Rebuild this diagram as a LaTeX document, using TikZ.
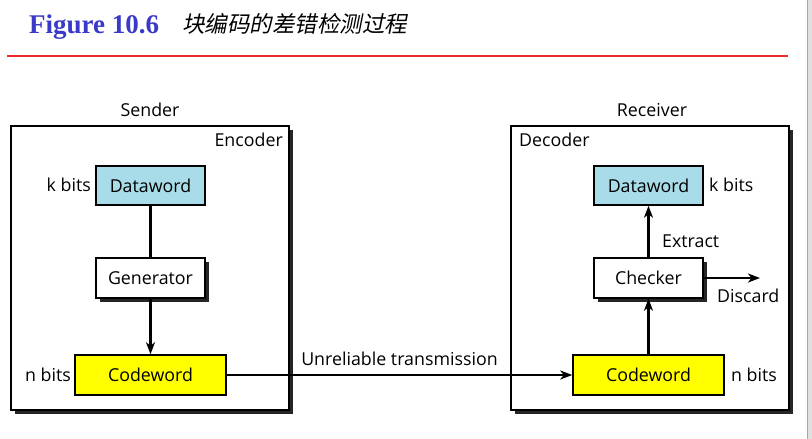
\documentclass[tikz,border=0pt]{standalone}
\usepackage{fontspec}
\setmainfont{Open Sans}
\newfontfamily\titlefont{Liberation Serif}
\newfontfamily\cjkfont[FakeSlant=0.2]{Noto Sans CJK SC}
\usetikzlibrary{arrows.meta,shadows}
\definecolor{titleblue}{HTML}{3A3AC8}
\definecolor{ruled}{HTML}{EE2A2A}
\definecolor{lblue}{HTML}{A8DCE8}
\definecolor{yel}{HTML}{FFFF00}
\begin{document}
\begin{tikzpicture}[x=1pt,y=-1pt,
  every node/.style={font=\fontsize{17.8}{20}\selectfont, inner sep=0pt},
  shad/.style={drop shadow={shadow xshift=4pt,shadow yshift=-4pt,fill=black!85,opacity=1}},
  shads/.style={drop shadow={shadow xshift=3.5pt,shadow yshift=-3.5pt,fill=black!85,opacity=1}},
  outerbox/.style={draw=black, line width=1.5pt, fill=white, shad, minimum width=278pt, minimum height=284pt},
  wordbox/.style={draw=black, line width=1.5pt, minimum width=109pt, minimum height=39pt},
  codebox/.style={draw=black, line width=1.5pt, fill=yel, minimum width=151pt, minimum height=40pt},
  procbox/.style={draw=black, line width=1.5pt, fill=white, shads, minimum width=109pt, minimum height=40pt},
  conn/.style={line width=2.2pt},
  arr/.style={line width=2.2pt, -{Stealth[length=12pt,width=9pt,inset=3.5pt]}}
]
\useasboundingbox (0,0) rectangle (812,439);
\fill[white] (0,0) rectangle (812,439);
% right grey strip
\fill[black!12] (807,0) rectangle (812,439);
\draw[black!35, line width=0.8pt] (807.5,0) -- (807.5,439);

% title
\node[anchor=base west, text=titleblue, font=\titlefont\bfseries\fontsize{27}{29}\selectfont] (fig) at (29,33) {Figure 10.6};
\node[anchor=base west, font=\cjkfont\fontsize{22.5}{24}\selectfont] (cap) at (182,32) {块编码的差错检测过程};
\draw[ruled, line width=2pt] (7,56) -- (788,56);

% boxes
\node[outerbox] (enc) at (150,268) {};
\node[outerbox] (dec) at (650,268) {};

\node (sender) at (150,110) {Sender};
\node (receiver) at (652,110) {Receiver};
\node[anchor=east] (enclab) at (283,140) {Encoder};
\node[anchor=west] (declab) at (519,140) {Decoder};

% sender side
\node[wordbox, fill=lblue] (ldata) at (150.5,185.5) {Dataword};
\node[procbox] (gen) at (150.5,278) {Generator};
\node[codebox] (lcode) at (150.5,375) {Codeword};
\node[anchor=east] (lk) at (91,185) {k bits};
\node[anchor=east] (ln) at (71,375) {n bits};

\draw[conn] (ldata.south) -- (gen.north);
\draw[arr] (gen.south) -- (lcode.north);

% receiver side
\node[wordbox, fill=lblue] (rdata) at (648.5,185.5) {Dataword};
\node[procbox] (chk) at (648.5,278) {Checker};
\node[codebox] (rcode) at (648.5,375) {Codeword};
\node[anchor=west] (rk) at (709,185) {k bits};
\node[anchor=west] (rn) at (731,375) {n bits};

\draw[arr] (rcode.north) -- (chk.south);
\draw[arr] (chk.north) -- (rdata.south);
\node[anchor=west] (extract) at (662,241) {Extract};
\coordinate (discend) at (760,278);
\draw[arr] (chk.east) -- (discend);
\node[anchor=west] (discard) at (717,296) {Discard};

% transmission
\draw[arr] (lcode.east) -- (rcode.west) node[pos=0.5, above=8pt] (trans) {Unreliable transmission};
\end{tikzpicture}
\end{document}
